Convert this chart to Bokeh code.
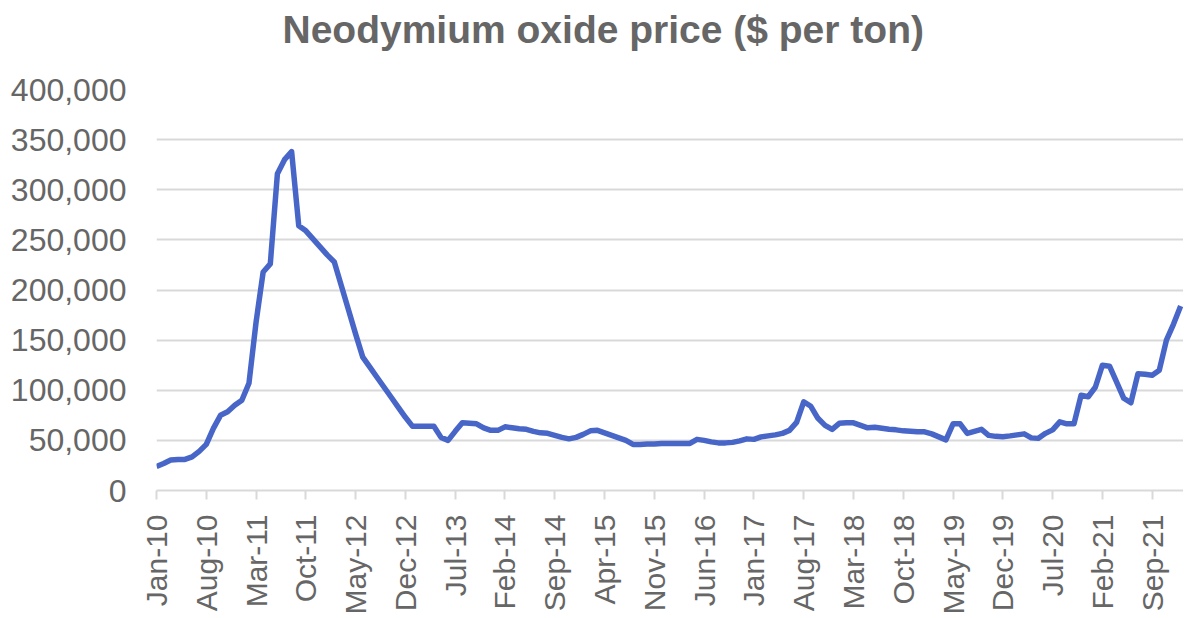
from bokeh.plotting import figure
from bokeh.models import FixedTicker, NumeralTickFormatter, Range1d, ColumnDataSource, Title
from bokeh.embed import file_html
from bokeh.resources import INLINE
import math

# ---- data (monthly, Jan-2010 .. Jan-2022), $ per ton ----
prices = [
    24000, 27000, 30500, 31000, 31000, 33500, 39000, 46000, 62000, 75000,
    78500, 85000, 90000, 107000, 168000, 218000, 226000, 316000, 330000, 338000,
    264000, 259000, 251000, 243000, 235000, 228000, 204000, 180000, 156000, 133000,
    123000, 113000, 103000, 93000, 83000, 73000, 64000, 64000, 64000, 64000,
    53000, 50000, 59000, 67500, 67000, 66500, 62500, 60000, 60000, 63500,
    62500, 61500, 61000, 59000, 57500, 57000, 55000, 53000, 51500, 53000,
    56000, 59500, 60000, 57500, 55000, 52500, 50000, 46000, 46000, 46500,
    46500, 47000, 47000, 47000, 47000, 47000, 51000, 50000, 48500, 47500,
    47500, 48000, 49500, 51500, 51000, 53500, 54500, 55500, 57000, 60000,
    68000, 88500, 84000, 72000, 65000, 61000, 67000, 67500, 67500, 65000,
    62500, 63000, 62000, 61000, 60500, 59500, 59000, 58600, 58500, 56500,
    53500, 50500, 66500, 66500, 57000, 59000, 61000, 55000, 54000, 53700,
    54500, 55500, 56500, 52500, 52000, 57000, 60500, 68500, 66500, 66500,
    95000, 93500, 103000, 125000, 124000, 108000, 92000, 87500, 116500, 116000,
    115000, 120000, 150000, 166000, 184000,
]
month_index = list(range(len(prices)))

tick_labels = ["Jan-10", "Aug-10", "Mar-11", "Oct-11", "May-12", "Dec-12", "Jul-13",
               "Feb-14", "Sep-14", "Apr-15", "Nov-15", "Jun-16", "Jan-17", "Aug-17",
               "Mar-18", "Oct-18", "May-19", "Dec-19", "Jul-20", "Feb-21", "Sep-21"]
tick_positions = [7 * i for i in range(len(tick_labels))]

y_ticks = [0, 50000, 100000, 150000, 200000, 250000, 300000, 350000, 400000]

title_text = "Neodymium oxide price ($ per ton)"

TEXT = "#666666"
GRID = "#d9d9d9"
LINE = "#4766c8"
FONT = "Liberation Sans"

p = figure(width=1183, height=617, output_backend="svg", toolbar_location=None,
           x_range=Range1d(0, 144.4), y_range=Range1d(0, 400000),
           min_border_left=156, min_border_right=0, min_border_top=88,
           min_border_bottom=127)

# spacer panel (nearest the frame), then the real title (outermost)
spacer = Title(text=" ", text_font=FONT, text_font_size="10px", standoff=17)
p.add_layout(spacer, "above")
main_title = Title(text=title_text, align="left", offset=126, vertical_align="top",
                   standoff=14, text_font=FONT, text_font_size="39px",
                   text_font_style="bold", text_color=TEXT)
p.add_layout(main_title, "above")

src = ColumnDataSource(dict(x=month_index, y=prices))
p.line("x", "y", source=src, line_color=LINE, line_width=5.5, line_join="round")

p.outline_line_color = None
p.background_fill_color = "white"
p.border_fill_color = "white"

# x axis
xa = p.xaxis[0]
xa.ticker = FixedTicker(ticks=tick_positions)
xa.major_label_overrides = {pos: lab for pos, lab in zip(tick_positions, tick_labels)}
xa.major_label_orientation = math.pi / 2
xa.axis_line_color = GRID
xa.axis_line_width = 2
xa.major_tick_line_color = GRID
xa.major_tick_line_width = 2
xa.major_tick_in = 0
xa.major_tick_out = 9
xa.minor_tick_line_color = None
xa.major_label_standoff = 15
xa.major_label_text_font = FONT
xa.major_label_text_font_size = "30px"
xa.major_label_text_color = TEXT

# y axis
ya = p.yaxis[0]
ya.ticker = FixedTicker(ticks=y_ticks)
ya.formatter = NumeralTickFormatter(format="0,0")
ya.axis_line_color = None
ya.major_tick_line_color = None
ya.minor_tick_line_color = None
ya.major_tick_out = 0
ya.major_tick_in = 0
ya.major_label_standoff = 30
ya.major_label_text_font = FONT
ya.major_label_text_font_size = "32px"
ya.major_label_text_color = TEXT

p.xgrid.grid_line_color = None
p.ygrid.ticker = FixedTicker(ticks=y_ticks[1:])
p.ygrid.grid_line_color = GRID
p.ygrid.grid_line_width = 2

open("out.html", "w").write(file_html(p, INLINE))
